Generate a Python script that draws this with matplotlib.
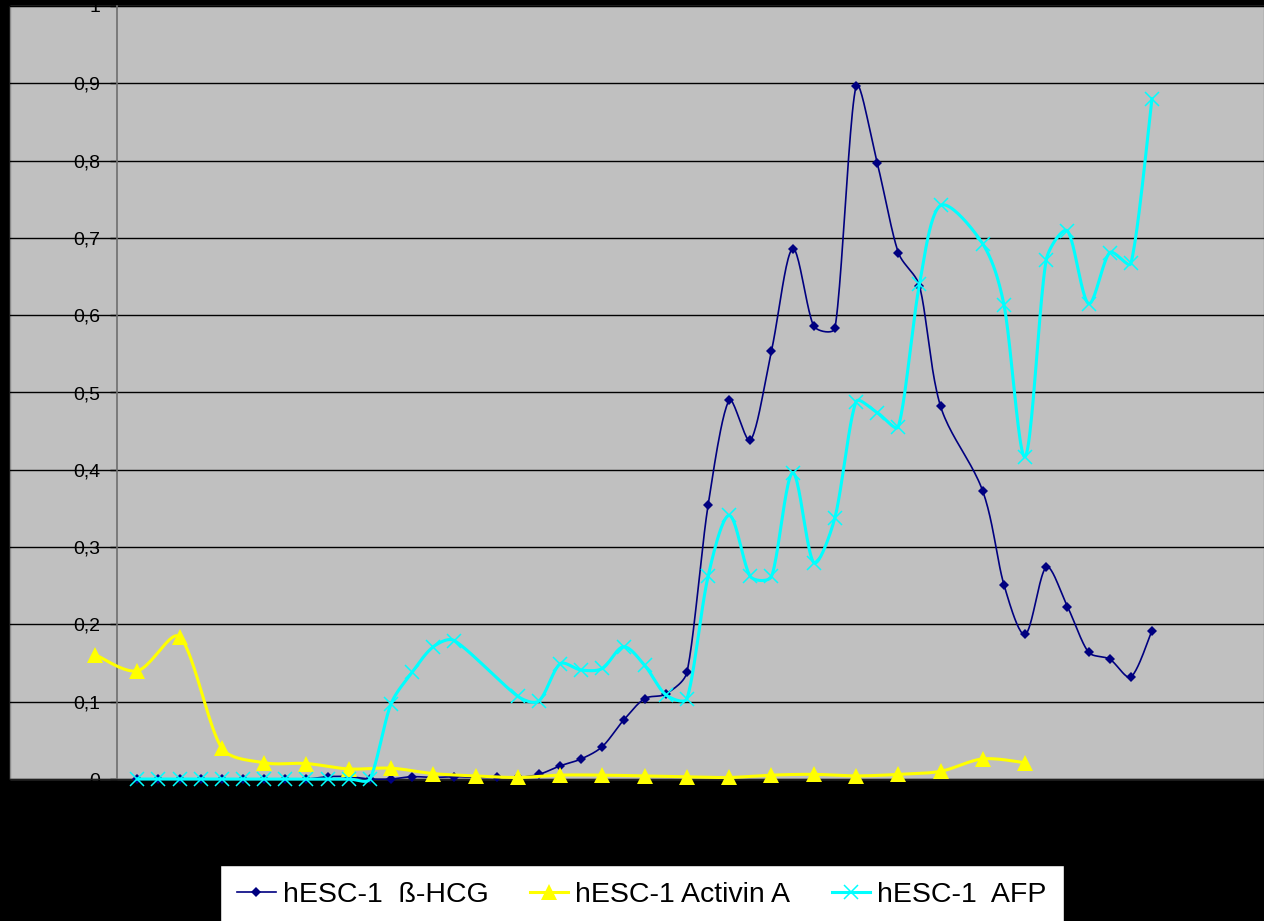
import numpy as np
import matplotlib.pyplot as plt

plt.rcParams['font.family'] = ['Liberation Sans', 'DejaVu Sans']

# sample index (x) and measured values for each series
hcg_x = list(range(2, 41)) + list(range(42, 51))
hcg_y = [0.0, 0.0, 0.0, 0.0, 0.0, 0.0, 0.0, 0.0, 0.0, 0.003, 0.003, 0.0,
         0.0, 0.003, 0.002, 0.003, 0.002, 0.002, 0.002, 0.006, 0.017, 0.026,
         0.042, 0.076, 0.104, 0.110, 0.138, 0.354, 0.490, 0.438, 0.554,
         0.686, 0.586, 0.583, 0.896, 0.797, 0.681, 0.638, 0.482,
         0.372, 0.251, 0.187, 0.274, 0.223, 0.164, 0.155, 0.132, 0.192]

act_x = list(range(0, 45, 2))
act_y = [0.161, 0.140, 0.184, 0.040, 0.021, 0.020, 0.013, 0.014, 0.007,
         0.004, 0.002, 0.005, 0.005, 0.004, 0.003, 0.002, 0.005, 0.006,
         0.004, 0.006, 0.010, 0.026, 0.021]

afp_x = list(range(2, 18)) + list(range(20, 41)) + list(range(42, 51))
afp_y = [0.0, 0.0, 0.0, 0.0, 0.0, 0.0, 0.0, 0.0, 0.0, 0.0, 0.0, 0.0,
         0.097, 0.138, 0.171, 0.179,
         0.107, 0.101, 0.149, 0.141, 0.143, 0.171, 0.147, 0.109, 0.104,
         0.262, 0.341, 0.262, 0.262, 0.396, 0.280, 0.338, 0.488, 0.474,
         0.456, 0.640, 0.742,
         0.692, 0.613, 0.417, 0.672, 0.709, 0.615, 0.681, 0.667, 0.880]

labels = ['hESC-1  ß-HCG', 'hESC-1 Activin A', 'hESC-1  AFP']
yticks = np.round(np.arange(0, 1.01, 0.1), 1)

# pixel size of one unit on each axis, used to smooth in screen space
XU, YU = 21.14, 773.0


def smooth(xs, ys, n=24):
    # Catmull-Rom bezier, tangents shortened next to much longer chords
    p = np.column_stack([np.asarray(xs) * XU, np.asarray(ys) * YU]).astype(float)
    p = np.vstack([p[0], p, p[-1]])
    out = []
    for i in range(1, len(p) - 2):
        p0, p1, p2, p3 = p[i - 1], p[i], p[i + 1], p[i + 2]
        d0 = np.hypot(*(p1 - p0))
        d1 = np.hypot(*(p2 - p1))
        d2 = np.hypot(*(p3 - p2))
        f1 = min(1.0, 2 * d1 / (d0 + d1)) if d0 + d1 else 0
        f2 = min(1.0, 2 * d1 / (d1 + d2)) if d1 + d2 else 0
        c1 = p1 + (p2 - p0) * f1 / 6
        c2 = p2 - (p3 - p1) * f2 / 6
        t = np.linspace(0, 1, n)[:, None]
        seg = ((1 - t) ** 3 * p1 + 3 * (1 - t) ** 2 * t * c1
               + 3 * (1 - t) * t ** 2 * c2 + t ** 3 * p2)
        out.append(seg if i == 1 else seg[1:])
    out = np.vstack(out)
    return out[:, 0] / XU, out[:, 1] / YU


fig = plt.figure(figsize=(12.64, 9.21), dpi=100, facecolor='black')
ax = fig.add_axes([10 / 1264, 1 - 779 / 921, 1254 / 1264, 773 / 921])
ax.set_facecolor('#c0c0c0')
ax.patch.set_edgecolor('#8a8a8a')
ax.patch.set_linewidth(1)

series = [
    (hcg_x, hcg_y, dict(color='#000080', lw=1.2, marker='D', ms=5, mew=0), 3),
    (act_x, act_y, dict(color='#ffff00', lw=2.2, marker='^', ms=12, mew=0), 4),
    (afp_x, afp_y, dict(color='#00ffff', lw=2.2, marker='x', ms=10, mew=1.1), 5),
]
handles = []
for (xs, ys, st, z), lab in zip(series, labels):
    sx, sy = smooth(xs, ys)
    ax.plot(sx, sy, color=st['color'], lw=st['lw'], zorder=z, clip_on=False)
    ax.plot(xs, ys, ls='none', marker=st['marker'], ms=st['ms'],
            mew=st['mew'], color=st['color'], zorder=z, clip_on=False)
    handles.append(plt.Line2D([], [], **st, label=lab))

ax.set_xlim((10 - 95) / XU, (1264 - 95) / XU)
ax.set_ylim(0, 1)
ax.set_yticks(yticks)
ax.set_yticklabels([f'{v:g}'.replace('.', ',') for v in yticks])
ax.set_xticks([])
ax.grid(axis='y', color='black', lw=1)
ax.set_axisbelow(True)

ax.spines['left'].set_position(('data', (117 - 95) / XU))
ax.spines['left'].set_color('#6e6e6e')
ax.spines['left'].set_linewidth(1.2)
ax.spines['right'].set_visible(False)
ax.spines['top'].set_visible(False)
ax.spines['bottom'].set_color('#202020')
ax.tick_params(axis='y', direction='out', length=5, width=1, color='black',
               labelsize=14, pad=7, labelcolor='black')

fig.legend(handles=handles, loc='upper left',
           bbox_to_anchor=(220 / 1264, 1 - 865 / 921), ncol=3,
           fontsize=20.5, frameon=True, fancybox=False, edgecolor='black',
           facecolor='white', framealpha=1, borderpad=0.6,
           handlelength=1.35, handletextpad=0.25, columnspacing=1.45,
           borderaxespad=0)

fig.savefig('out.png', dpi=100, facecolor='black')
